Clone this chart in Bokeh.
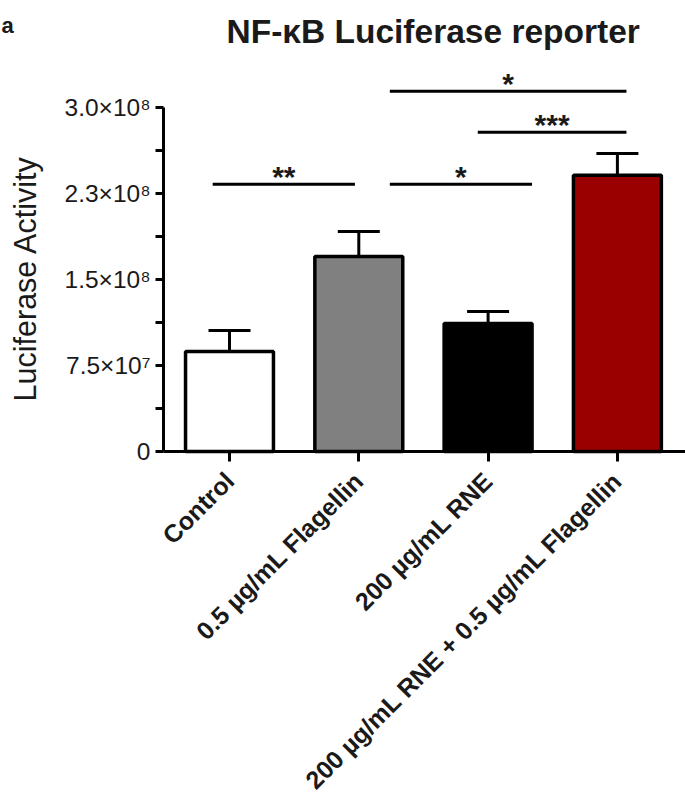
from math import pi
from bokeh.plotting import figure
from bokeh.models import (ColumnDataSource, Range1d, FixedTicker, Whisker, TeeHead, Label)
from bokeh.core.properties import value
from bokeh.embed import file_html
from bokeh.resources import INLINE

# ---- data ----
categories = ["Control", "0.5 \u00b5g/mL Flagellin", "200 \u00b5g/mL RNE",
              "200 \u00b5g/mL RNE + 0.5 \u00b5g/mL Flagellin"]
means = [8.72e7, 1.70e8, 1.116e8, 2.41e8]
upper_err = [1.055e8, 1.919e8, 1.221e8, 2.599e8]
bar_colors = ["#ffffff", "#808080", "#000000", "#9b0000"]

y_ticks = [0, 7.5e7, 1.5e8, 2.25e8, 3.0e8]
y_tick_labels = ["0", "7.5\u00d710\u2077", "1.5\u00d710\u2078", "2.3\u00d710\u2078", "3.0\u00d710\u2078"]
y_minor = [3.75e7, 1.125e8, 1.875e8, 2.625e8]

sig_x0 = [-0.13, 1.24, 1.92, 1.24]
sig_x1 = [0.97, 2.34, 3.07, 3.07]
sig_y = [2.33e8, 2.33e8, 2.785e8, 3.142e8]
sig_text = ["**", "*", "***", "*"]

title_text = "NF-\u03baB Luciferase reporter"
y_title = "Luciferase Activity"
panel_letter = "a"

FONT = "Liberation Sans"
TXT = "#1a1a1a"

# layout geometry (canvas pixels)
W, H = 685, 798
X0_PX, DX_PX = 229, 129.3          # centre of first bar, spacing between bars
Y0_PX, DY_PX = 451, 344 / 3.0e8    # baseline row, px per unit
AX_LEFT = (163 - X0_PX) / DX_PX     # y axis position in data units


def xd(px):
    return (px - X0_PX) / DX_PX


def yd(py):
    return (Y0_PX - py) / DY_PX


xs = list(range(len(categories)))
src = ColumnDataSource(dict(x=xs, top=means, upper=upper_err, color=bar_colors))

p = figure(width=W, height=H, output_backend="svg", toolbar_location=None,
           x_range=Range1d(xd(0), xd(W)), y_range=Range1d(yd(H), yd(0)),
           min_border=0)
p.outline_line_color = None
p.grid.visible = False
p.background_fill_color = "white"
p.border_fill_color = "white"

# bars
p.vbar(x="x", top="top", width=0.68, bottom=0, source=src, fill_color="color",
       line_color="black", line_width=3.5)

# error bars (upper only)
w = Whisker(base="x", lower="top", upper="upper", source=src, line_width=3,
            line_color="black",
            upper_head=TeeHead(size=42, line_width=3, line_color="black"),
            lower_head=None)
p.add_layout(w)

# significance bars
p.segment(x0=sig_x0, y0=sig_y, x1=sig_x1, y1=sig_y, line_width=3, line_color="black")
sig_xc = [(a + b) / 2 for a, b in zip(sig_x0, sig_x1)]
p.text(x=sig_xc, y=sig_y, text=sig_text, text_align="center", text_baseline="alphabetic",
       y_offset=-8, text_font=value(FONT), text_font_size="30px", text_font_style="bold",
       text_color=TXT)

# y axis (drawn at fixed position inside the canvas)
ya = p.yaxis[0]
ya.fixed_location = AX_LEFT
ya.ticker = FixedTicker(ticks=y_ticks, minor_ticks=y_minor)
ya.major_label_overrides = {t: l for t, l in zip(y_ticks, y_tick_labels)}
ya.bounds = (0, 3.0e8)
ya.axis_line_width = 3
ya.axis_line_color = "black"
ya.major_tick_line_width = 3
ya.minor_tick_line_width = 3
ya.major_tick_out = 8
ya.major_tick_in = 0
ya.minor_tick_out = 8
ya.minor_tick_in = 0
ya.major_label_text_font = FONT
ya.major_label_text_font_size = "24.5px"
ya.major_label_text_color = TXT
ya.major_label_standoff = 5

# x axis
xa = p.xaxis[0]
xa.fixed_location = 0
xa.ticker = FixedTicker(ticks=xs)
xa.major_label_overrides = {i: c for i, c in zip(xs, categories)}
xa.major_label_orientation = pi / 4
xa.bounds = (AX_LEFT, xd(W))
xa.axis_line_width = 3
xa.axis_line_color = "black"
xa.major_tick_line_width = 3
xa.major_tick_out = 10
xa.major_tick_in = 0
xa.minor_tick_line_color = None
xa.major_label_text_font = FONT
xa.major_label_text_font_size = "25px"
xa.major_label_text_font_style = "bold"
xa.major_label_text_color = TXT
xa.major_label_standoff = 15

# texts
p.add_layout(Label(x=xd(226), y=yd(31), text=title_text, text_align="left",
                   text_baseline="alphabetic", text_font=FONT, text_font_size="33.5px",
                   text_font_style="bold", text_color=TXT))
p.add_layout(Label(x=xd(24), y=yd(278), text=y_title, angle=pi / 2,
                   text_align="center", text_baseline="middle", text_font=FONT,
                   text_font_size="30.5px", text_color=TXT))
p.add_layout(Label(x=xd(1), y=yd(25), text=panel_letter, text_align="left",
                   text_baseline="alphabetic", text_font=FONT, text_font_size="22px",
                   text_font_style="bold", text_color=TXT))

open("out.html", "w").write(file_html(p, INLINE))
